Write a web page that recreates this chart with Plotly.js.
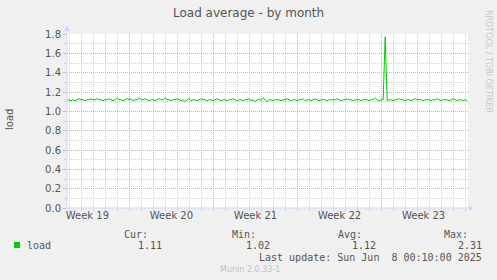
<!DOCTYPE html>
<html><head><meta charset="utf-8">
<script src="https://cdn.plot.ly/plotly-3.0.1.min.js"></script>
<style>html,body{margin:0;padding:0;background:#f0f0f0;}#chart{width:497px;height:280px;}</style>
</head><body><div id="chart"></div>
<script>
// ---- data ----
const chartTitle = 'Load average - by month';
const yAxisLabel = 'load';
const weekLabels = ['Week 19', 'Week 20', 'Week 21', 'Week 22', 'Week 23'];
const weekCenters = [1.7, 8.7, 15.7, 22.7, 29.7];   // days from graph start
const weekBounds = [5.2, 12.2, 19.2, 26.2];          // days from graph start
const stepDays = 1 / 6;                               // one sample every 4 hours
const load = [
  1.11,1.12,1.11,1.12,1.11,1.12,
  1.13,1.12,1.12,1.11,1.12,1.12,
  1.13,1.12,1.12,1.13,1.12,1.12,
  1.11,1.12,1.12,1.13,1.12,1.11,
  1.12,1.14,1.12,1.12,1.11,1.12,
  1.13,1.12,1.13,1.11,1.12,1.12,
  1.14,1.12,1.12,1.13,1.12,1.11,
  1.12,1.12,1.11,1.12,1.13,1.12,
  1.12,1.14,1.12,1.12,1.11,1.12,
  1.12,1.13,1.12,1.11,1.12,1.10,
  1.12,1.13,1.11,1.12,1.12,1.11,
  1.12,1.13,1.12,1.12,1.11,1.12,
  1.12,1.11,1.12,1.13,1.12,1.11,
  1.12,1.12,1.11,1.12,1.12,1.13,
  1.12,1.11,1.12,1.12,1.11,1.12,
  1.12,1.13,1.11,1.12,1.10,1.12,
  1.13,1.11,1.14,1.12,1.10,1.12,
  1.12,1.11,1.12,1.12,1.12,1.11,
  1.12,1.12,1.13,1.12,1.11,1.12,
  1.12,1.11,1.12,1.12,1.13,1.11,
  1.12,1.12,1.11,1.12,1.13,1.12,
  1.11,1.12,1.12,1.12,1.11,1.12,
  1.12,1.12,1.12,1.13,1.12,1.11,
  1.12,1.12,1.13,1.12,1.12,1.11,
  1.12,1.12,1.12,1.11,1.12,1.12,
  1.12,1.11,1.12,1.12,1.14,1.12,
  1.11,1.12,1.12,1.77,1.11,1.12,
  1.12,1.11,1.12,1.12,1.13,1.12,
  1.12,1.11,1.12,1.12,1.11,1.12,
  1.13,1.12,1.12,1.12,1.11,1.12,
  1.12,1.12,1.11,1.12,1.12,1.13,
  1.12,1.11,1.12,1.12,1.12,1.11,
  1.12,1.13,1.12,1.11,1.12,1.12,
  1.11,1.12,1.11
];
const seriesName = 'load';
const statLabels = ['Cur:', 'Min:', 'Avg:', 'Max:'];
const statValues = ['1.11', '1.02', '1.12', '2.31'];
const lastUpdate = 'Last update: Sun Jun  8 00:10:00 2025';
const muninVersion = 'Munin 2.0.33-1';
const rrdCredit = 'RRDTOOL / TOBI OETIKER';

// ---- layout helpers ----
const W = 497, H = 280, L = 67, R = 468, T = 34, B = 208;
const px = x => (x - L) / (R - L);
const py = y => (B - y) / (B - T);
const xs = load.map((_, i) => i * stepDays);

const green = '#00cc00';
const axisCol = '#CFD6F8';
const majorGrid = '#e8a8a8';
const minorGrid = '#d2d2d2';
const dash = '1px,1px';
const fontCol = '#555555';
const mono = 'DejaVu Sans Mono';
const sans = 'DejaVu Sans';

const traces = [
  {x: xs, y: load, type: 'scatter', mode: 'lines', line: {color: green, width: 1}, hoverinfo: 'skip', showlegend: false},
  {x: [], y: [], xaxis: 'x2', type: 'scatter', mode: 'lines', showlegend: false}
];

const ann = [];
function text(t, x, y, opt) {
  ann.push(Object.assign({text: t, xref: 'paper', yref: 'paper', x: px(x), y: py(y), showarrow: false,
    xanchor: 'left', yanchor: 'middle', font: {family: mono, size: 10, color: fontCol}}, opt || {}));
}
text(chartTitle, 248, 13, {xanchor: 'center', font: {family: sans, size: 12, color: fontCol}});
text(yAxisLabel, 10, 120, {xanchor: 'center', textangle: -90, font: {family: sans, size: 10, color: fontCol}});
text(rrdCredit, 489, 61, {xanchor: 'center', textangle: 90, font: {family: sans, size: 8, color: '#c8c8c8'}});
text(seriesName, 25, 245);
const statRight = [163, 271, 377, 483];
statLabels.forEach((s, i) => {
  text(s, statRight[i] - 13, 234, {xanchor: 'right'});
  text(statValues[i], statRight[i] + 1, 245, {xanchor: 'right'});
});
text(lastUpdate, 484, 257, {xanchor: 'right'});
text(muninVersion, 250, 269, {xanchor: 'center', font: {family: sans, size: 8, color: '#c0c0c0'}});

const P = (x, y) => px(x) + ',' + py(y);
const shapes = [
  {type: 'line', xref: 'paper', yref: 'paper', x0: px(L), x1: px(L), y0: py(B), y1: py(28), line: {color: axisCol, width: 1}},
  {type: 'line', xref: 'paper', yref: 'paper', x0: px(L), x1: px(472), y0: py(B), y1: py(B), line: {color: axisCol, width: 1}},
  {type: 'path', xref: 'paper', yref: 'paper', path: 'M' + P(64, 31) + 'L' + P(70, 31) + 'L' + P(67, 25) + 'Z', fillcolor: axisCol, line: {width: 0}},
  {type: 'path', xref: 'paper', yref: 'paper', path: 'M' + P(469, 205) + 'L' + P(469, 211) + 'L' + P(474, 208) + 'Z', fillcolor: axisCol, line: {width: 0}},
  {type: 'rect', xref: 'paper', yref: 'paper', x0: px(14), x1: px(20), y0: py(248), y1: py(242), fillcolor: green, line: {width: 0}}
];

const layout = {
  width: W, height: H,
  margin: {l: L, r: W - R, t: T, b: H - B, pad: 0},
  paper_bgcolor: '#f0f0f0', plot_bgcolor: '#ffffff',
  showlegend: false,
  xaxis: {
    range: [0, 33.4], tickmode: 'array', tickvals: weekBounds, showticklabels: false,
    showgrid: true, gridcolor: majorGrid, griddash: dash, gridwidth: 1,
    ticks: '', zeroline: false, showline: false, fixedrange: true,
    minor: {tickmode: 'linear', tick0: weekBounds[0], dtick: 1, showgrid: true, gridcolor: minorGrid, griddash: dash, gridwidth: 1,
      ticks: 'outside', ticklen: 2, tickcolor: '#cccccc'}
  },
  xaxis2: {
    overlaying: 'x', anchor: 'y', side: 'bottom', range: [0, 33.4],
    tickmode: 'array', tickvals: weekCenters, ticktext: weekLabels,
    showgrid: false, zeroline: false, ticks: '', showline: false,
    tickfont: {family: sans, size: 10, color: fontCol}, fixedrange: true
  },
  yaxis: {
    range: [0, 1.8], tickmode: 'linear', tick0: 0, dtick: 0.2, tickformat: '.1f',
    showgrid: true, gridcolor: majorGrid, griddash: dash, gridwidth: 1,
    zeroline: false, showline: false, ticks: 'outside', ticklen: 3, tickcolor: '#bbbbbb',
    tickfont: {family: sans, size: 10, color: fontCol}, fixedrange: true,
    minor: {tickmode: 'linear', tick0: 0, dtick: 0.1, showgrid: true, gridcolor: minorGrid, griddash: dash, gridwidth: 1,
      ticks: 'outside', ticklen: 2, tickcolor: '#cccccc'}
  },
  annotations: ann,
  shapes: shapes
};

Plotly.newPlot('chart', traces, layout, {staticPlot: true, displayModeBar: false});
</script></body></html>
